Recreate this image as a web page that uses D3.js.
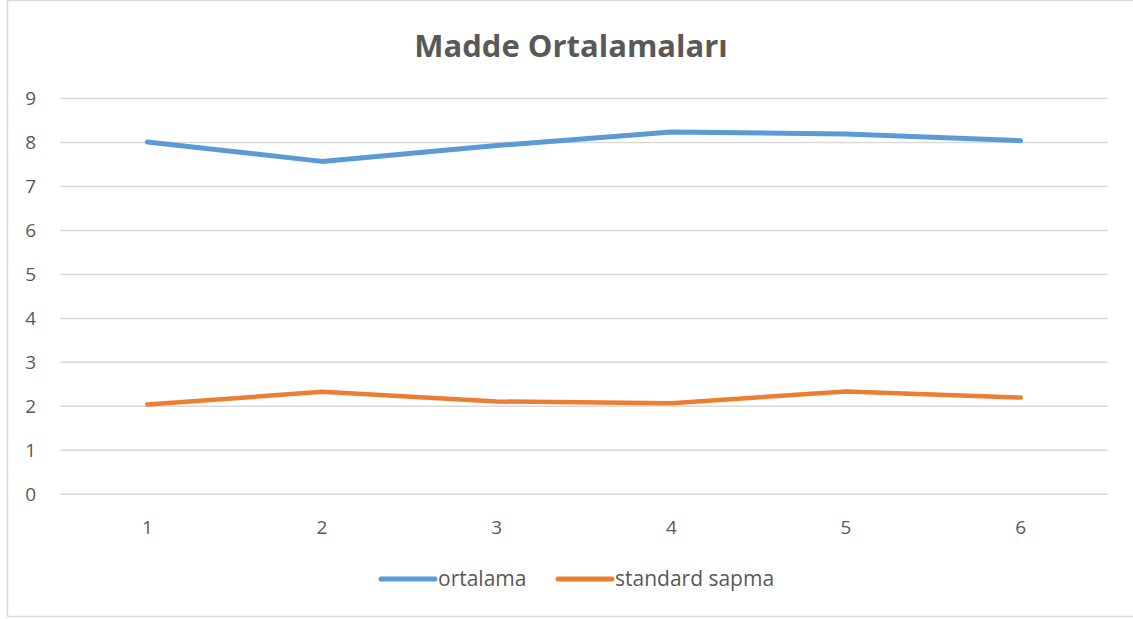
<!DOCTYPE html>
<html>
<head>
<meta charset="utf-8">
<script src="https://cdn.jsdelivr.net/npm/d3@7.9.0/dist/d3.min.js"></script>
<style>
  body { margin: 0; background: #fff; }
  svg { display: block; font-family: 'Open Sans', 'Noto Sans', sans-serif; }
</style>
</head>
<body>
<svg id="chart" width="1133" height="619"></svg>
<script>
const categories = ['1', '2', '3', '4', '5', '6'];
const ortalama = [8.01, 7.57, 7.93, 8.24, 8.19, 8.04];
const standardSapma = [2.04, 2.33, 2.11, 2.07, 2.34, 2.20];
const yTicks = [0, 1, 2, 3, 4, 5, 6, 7, 8, 9];

const series = [
  { name: 'ortalama', values: ortalama, color: '#5b9bd5', width: 5 },
  { name: 'standard sapma', values: standardSapma, color: '#ed7d31', width: 4.5 }
];

const svg = d3.select('#chart');
const textColor = '#595959';

// outer frame
svg.append('rect')
  .attr('x', 7.5).attr('y', 0.5)
  .attr('width', 1135).attr('height', 616)
  .attr('fill', 'none').attr('stroke', '#d9d9d9').attr('stroke-width', 1.5);

const x = d3.scaleBand().domain(categories).range([60, 1108]);
const y = d3.scaleLinear().domain([0, 9]).range([494.3, 98.5]);

// gridlines
svg.append('g')
  .selectAll('line')
  .data(yTicks)
  .join('line')
  .attr('x1', 60).attr('x2', 1108)
  .attr('y1', (d) => y(d)).attr('y2', (d) => y(d))
  .attr('stroke', '#d9d9d9').attr('stroke-width', 1.5);

// y labels
svg.append('g')
  .selectAll('text')
  .data(yTicks)
  .join('text')
  .attr('x', 36)
  .attr('y', (d) => y(d))
  .attr('dy', '0.35em')
  .attr('text-anchor', 'end')
  .attr('fill', textColor)
  .attr('font-size', 19)
  .text((d) => d);

// x labels
svg.append('g')
  .selectAll('text')
  .data(categories)
  .join('text')
  .attr('x', (d) => x(d) + x.bandwidth() / 2)
  .attr('y', 534)
  .attr('text-anchor', 'middle')
  .attr('fill', textColor)
  .attr('font-size', 19)
  .text((d) => d);

const line = d3.line()
  .x((d, i) => x(categories[i]) + x.bandwidth() / 2)
  .y((d) => y(d));

svg.append('g')
  .selectAll('path')
  .data(series)
  .join('path')
  .attr('d', (d) => line(d.values))
  .attr('fill', 'none')
  .attr('stroke', (d) => d.color)
  .attr('stroke-width', (d) => d.width)
  .attr('stroke-linecap', 'round')
  .attr('stroke-linejoin', 'round');

// title
svg.append('text')
  .attr('x', 571)
  .attr('y', 57)
  .attr('text-anchor', 'middle')
  .attr('fill', textColor)
  .attr('font-size', 31)
  .attr('font-weight', 'bold')
  .text('Madde Ortalamaları');

// legend
const legendX = [381, 558];
const legend = svg.append('g')
  .selectAll('g')
  .data(series)
  .join('g')
  .attr('transform', (d, i) => `translate(${legendX[i]},579)`);

legend.append('line')
  .attr('x1', 0).attr('x2', 54)
  .attr('stroke', (d) => d.color)
  .attr('stroke-width', 5)
  .attr('stroke-linecap', 'round');

legend.append('text')
  .attr('x', 57)
  .attr('dy', '0.35em')
  .attr('fill', textColor)
  .attr('font-size', 21)
  .text((d) => d.name);
</script>
</body>
</html>
